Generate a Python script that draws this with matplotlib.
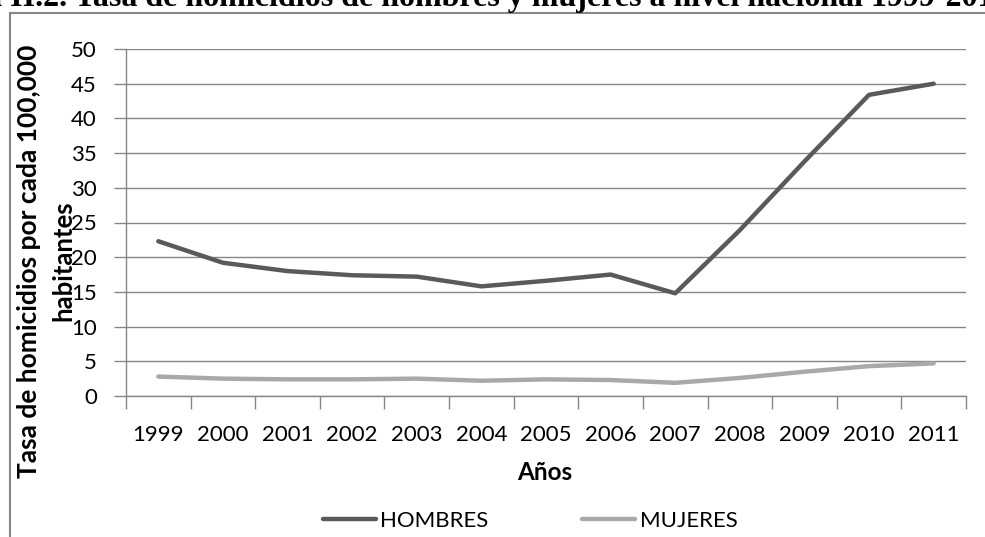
import matplotlib
matplotlib.use("Agg")
import matplotlib.pyplot as plt
from matplotlib.lines import Line2D

years = ["1999", "2000", "2001", "2002", "2003", "2004", "2005",
         "2006", "2007", "2008", "2009", "2010", "2011"]
hombres = [22.3, 19.2, 18.0, 17.4, 17.2, 15.8, 16.6, 17.5, 14.8, 23.9, 33.8, 43.4, 45.0]
mujeres = [2.8, 2.5, 2.4, 2.4, 2.5, 2.2, 2.4, 2.3, 1.9, 2.6, 3.5, 4.3, 4.7]

title = "Gráfica II.2. Tasa de homicidios de hombres y mujeres a nivel nacional 1999-2011"
title_prefix = "Gráfica II.2. "
ylabel_1 = "Tasa de homicidios por cada 100,000"
ylabel_2 = "habitantes"

W, H = 985, 537
grid_col = "#868686"

plt.rcParams["font.family"] = ["Lato", "DejaVu Sans"]

fig = plt.figure(figsize=(W / 100, H / 100), dpi=100)
ax = fig.add_axes([126 / W, 1 - 396 / H, (966 - 126) / W, (396 - 49) / H])

x = list(range(len(years)))
ax.plot(x, hombres, color="#5a5a5a", lw=3.2, solid_capstyle="round", label="HOMBRES")
ax.plot(x, mujeres, color="#a9a9a9", lw=3.2, solid_capstyle="round", label="MUJERES")

ax.set_xlim(-0.5, len(years) - 0.5)
ax.set_ylim(0, 50)
ax.set_yticks(range(0, 51, 5))
ax.yaxis.grid(True, color=grid_col, lw=1.0)
ax.set_axisbelow(True)

ax.set_xticks(x)
ax.set_xticklabels(years, fontsize=16)
ax.set_xticks([i - 0.5 for i in range(len(years) + 1)], minor=True)
ax.tick_params(axis="x", which="major", length=0, pad=21)
ax.tick_params(axis="x", which="minor", length=9, width=1.0, color=grid_col, direction="out")
ax.tick_params(axis="y", length=9, width=1.0, color=grid_col, labelsize=16, pad=12)

for s in ["top", "right"]:
    ax.spines[s].set_visible(False)
for s in ["left", "bottom"]:
    ax.spines[s].set_color(grid_col)
    ax.spines[s].set_linewidth(1.0)

# y label as two lines, baselines at x=37 and x=71 px
fig.text(37 / W, 1 - 261 / H, ylabel_1, rotation=90, ha="center", va="baseline",
         rotation_mode="anchor", fontsize=19, fontweight="bold")
fig.text(71 / W, 1 - 261 / H, ylabel_2, rotation=90, ha="center", va="baseline",
         rotation_mode="anchor", fontsize=18.5, fontweight="bold")
fig.text(545 / W, 1 - 472 / H, "Años", ha="center", va="center",
         fontsize=17.5, fontweight="bold")

fig.legend(loc="center", bbox_to_anchor=(530 / W, 1 - 521 / H), ncol=2, frameon=False,
           fontsize=16, handlelength=2.4, handletextpad=0.2, columnspacing=4.2)

# outer frame (only top and left visible)
fig.add_artist(Line2D([9.5 / W, 9.5 / W], [0, 1 - 13 / H], color=grid_col, lw=1.5,
                      transform=fig.transFigure))
fig.add_artist(Line2D([9.5 / W, 1.0], [1 - 13 / H, 1 - 13 / H], color=grid_col, lw=1.5,
                      transform=fig.transFigure))

# title, cut off at the top like the reference
renderer = fig.canvas.get_renderer()
tmp = fig.text(0, 0, title_prefix, fontsize=23, fontweight="bold",
               family="Liberation Serif")
pw = tmp.get_window_extent(renderer).width
tmp.remove()
fig.text((75 - pw) / W, 1 - 6 / H, title, fontsize=23, fontweight="bold",
         family="Liberation Serif", ha="left", va="baseline")

fig.savefig("out.png", dpi=100)
